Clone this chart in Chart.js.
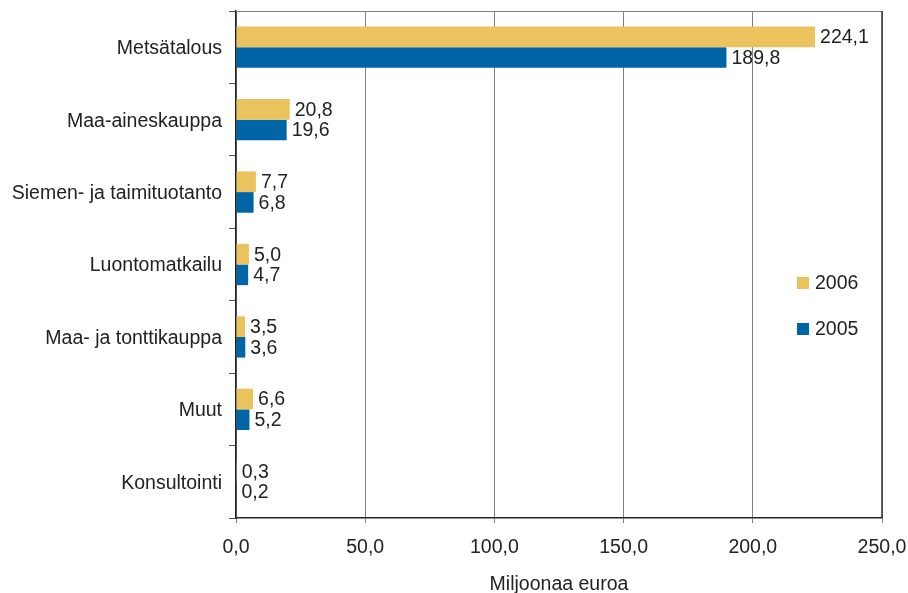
<!DOCTYPE html>
<html>
<head>
<meta charset="utf-8">
<script src="https://cdn.jsdelivr.net/npm/chart.js@4.4.0/dist/chart.umd.min.js"></script>
<style>
  html, body { margin: 0; padding: 0; background: #fff; }
  #wrap { width: 908px; height: 593px; }
</style>
</head>
<body>
<div id="wrap"><canvas id="chart" width="908" height="593"></canvas></div>
<script>
const categories = ['Metsätalous', 'Maa-aineskauppa', 'Siemen- ja taimituotanto', 'Luontomatkailu', 'Maa- ja tonttikauppa', 'Muut', 'Konsultointi'];
const values2006 = [224.1, 20.8, 7.7, 5.0, 3.5, 6.6, 0.3];
const values2005 = [189.8, 19.6, 6.8, 4.7, 3.6, 5.2, 0.2];
const seriesLabels = ['2006', '2005'];
const seriesColors = ['#EBC35E', '#0065A6'];
const axisTitle = 'Miljoonaa euroa';

const FONT = '"Liberation Sans", Arial, sans-serif';
const FSIZE = 19.5;
const TEXT = '#222222';

function fmt(v) {
    return v.toFixed(1).replace('.', ',');
}

// value labels at the end of each bar
const valueLabels = {
    id: 'valueLabels',
    afterDatasetsDraw(chart) {
        const ctx = chart.ctx;
        ctx.save();
        ctx.font = FSIZE + 'px ' + FONT;
        ctx.fillStyle = TEXT;
        ctx.textAlign = 'left';
        ctx.textBaseline = 'middle';
        chart.data.datasets.forEach((ds, i) => {
            chart.getDatasetMeta(i).data.forEach((bar, j) => {
                ctx.fillText(fmt(ds.data[j]), bar.x + 5, bar.y + 1);
            });
        });
        ctx.restore();
    }
};

// top/right frame and the legend inside the plot
const frameAndLegend = {
    id: 'frameAndLegend',
    afterDraw(chart) {
        const ctx = chart.ctx;
        const a = chart.chartArea;
        ctx.save();
        ctx.strokeStyle = '#808080';
        ctx.lineWidth = 1;
        ctx.beginPath();
        ctx.moveTo(a.left, a.top + 0.5);
        ctx.lineTo(a.right, a.top + 0.5);
        ctx.stroke();
        ctx.strokeStyle = '#333333';
        ctx.lineWidth = 1.5;
        ctx.beginPath();
        ctx.moveTo(a.right, a.top);
        ctx.lineTo(a.right, a.bottom);
        ctx.stroke();

        ctx.font = FSIZE + 'px ' + FONT;
        ctx.textBaseline = 'middle';
        const ys = [283, 329];
        chart.data.datasets.forEach((ds, i) => {
            ctx.fillStyle = ds.backgroundColor;
            ctx.fillRect(797, ys[i] - 6, 12, 12);
            ctx.fillStyle = TEXT;
            ctx.fillText(ds.label, 815, ys[i] + 1);
        });
        ctx.restore();
    }
};

new Chart(document.getElementById('chart'), {
    type: 'bar',
    data: {
        labels: categories,
        datasets: [
            { label: seriesLabels[0], data: values2006, backgroundColor: seriesColors[0] },
            { label: seriesLabels[1], data: values2005, backgroundColor: seriesColors[1] }
        ]
    },
    options: {
        indexAxis: 'y',
        responsive: false,
        animation: false,
        events: [],
        layout: { padding: { top: 11, right: 26, left: 0, bottom: 0 } },
        datasets: { bar: { categoryPercentage: 0.57, barPercentage: 1.0 } },
        plugins: { legend: { display: false }, tooltip: { enabled: false } },
        scales: {
            x: {
                min: 0,
                max: 250,
                ticks: {
                    stepSize: 50,
                    color: TEXT,
                    font: { family: FONT, size: FSIZE },
                    padding: 13,
                    callback: v => fmt(v)
                },
                grid: { color: '#808080', lineWidth: 1, tickLength: 5, tickColor: '#808080' },
                border: { color: '#222222', width: 1.5 },
                title: {
                    display: true,
                    text: axisTitle,
                    color: TEXT,
                    font: { family: FONT, size: FSIZE },
                    padding: { top: 0, bottom: -3 }
                },
                afterFit(scale) {
                    scale.height = 75;
                    scale.paddingLeft = 0;
                    scale.paddingRight = 0;
                }
            },
            y: {
                ticks: {
                    color: TEXT,
                    font: { family: FONT, size: FSIZE },
                    padding: 7,
                    labelOffset: 1.5
                },
                grid: { drawOnChartArea: false, tickLength: 7, tickColor: '#555555', offset: true },
                border: { color: '#222222', width: 1.5 },
                afterFit(scale) {
                    scale.width = 236;
                    scale.paddingTop = 0;
                    scale.paddingBottom = 0;
                }
            }
        }
    },
    plugins: [valueLabels, frameAndLegend]
});
</script>
</body>
</html>
